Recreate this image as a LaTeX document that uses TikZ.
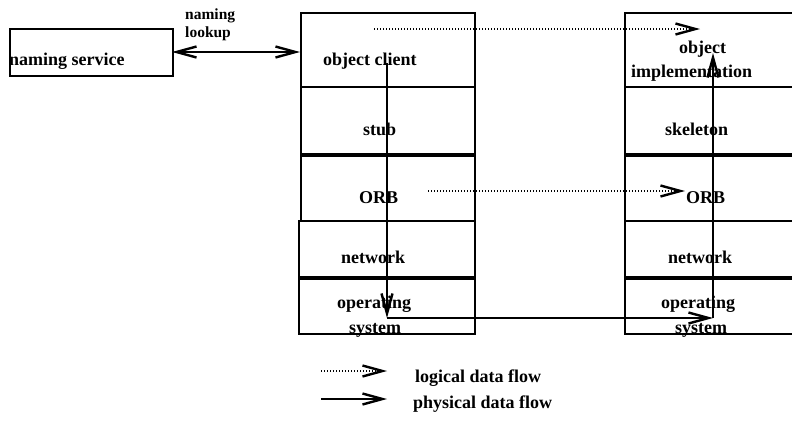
\documentclass[tikz,border=0pt]{standalone}
\usepackage{fontspec}
\setmainfont{Liberation Serif}
\usetikzlibrary{arrows.meta}
\begin{document}
\begin{tikzpicture}[x=1pt,y=-1pt,
  tip/.tip={Straight Barb[length=20pt,width=11pt,line width=2.4pt]},
  layer/.style={draw,line width=1.9pt},
  sep/.style={line width=3.4pt},
  txt/.style={anchor=base west,inner sep=0pt,font=\fontsize{18}{20}\selectfont\bfseries},
  smalltxt/.style={anchor=base west,inner sep=0pt,font=\fontsize{15.5}{17}\selectfont\bfseries},
  phys/.style={line width=1.9pt,-tip},
  logic/.style={line width=1.5pt,dash pattern=on 1pt off 2pt,-tip}]
\clip (0,0) rectangle (792,421);
\fill[white] (0,0) rectangle (792,421);
% naming service
\node[layer,anchor=north west,minimum width=163pt,minimum height=47pt,inner sep=0pt] (ns) at (9,28) {};
\node[txt] (nst) at (9,65) {naming service};
\node[smalltxt] (nl1) at (185,19) {naming};
\node[smalltxt] (nl2) at (185,37) {lookup};
% left stack
\foreach \n/\xa/\ya/\yb in {l1/301/13/87, l2/301/87/155, l3/301/155/221, l4/299/221/278, l5/299/278/334}{
  \draw[layer] (\xa,\ya) rectangle (475,\yb);
  \coordinate (\n) at (\xa,\ya);
}
% right stack
\foreach \n/\ya/\yb in {r1/13/87, r2/87/155, r3/155/221, r4/221/278, r5/278/334}{
  \draw[layer] (625,\ya) rectangle (820,\yb);
  \coordinate (\n) at (625,\ya);
}
\draw[sep] (301,155) -- (475,155);
\draw[sep] (299,278) -- (475,278);
\draw[sep] (625,155) -- (792,155);
\draw[sep] (625,278) -- (792,278);
% labels left
\node[txt] (oc) at (323,65) {object client};
\node[txt] (stub) at (363,135) {stub};
\node[txt] (orbl) at (359,203) {ORB};
\node[txt] (netl) at (341,263) {network};
\node[txt] (osl1) at (337,308) {operating};
\node[txt] (osl2) at (349,333) {system};
% labels right
\node[txt] (oi1) at (679,53) {object};
\node[txt] (oi2) at (631,77) {implementation};
\node[txt] (skel) at (665,135) {skeleton};
\node[txt] (orbr) at (686,203) {ORB};
\node[txt] (netr) at (668,263) {network};
\node[txt] (osr1) at (661,308) {operating};
\node[txt] (osr2) at (675,333) {system};
% naming lookup arrow
\coordinate (na) at (172,52);
\coordinate (nb) at (300,52);
\draw[line width=1.9pt,tip-tip] (na) -- (nb);
% physical flow
\coordinate (p0) at (387,63);
\coordinate (p1) at (387,318);
\coordinate (p2) at (713,318);
\coordinate (p3) at (713,53);
\draw[phys] (p0) -- (p1);
\draw[phys] (p1) -- (p2);
\draw[phys] (p2) -- (p3);
% logical flow
\coordinate (d0) at (374,29);
\coordinate (d1) at (700,29);
\coordinate (d2) at (428,191);
\coordinate (d3) at (685,191);
\draw[logic] (d0) -- (d1);
\draw[logic] (d2) -- (d3);
% legend
\coordinate (g0) at (321,371);
\coordinate (g1) at (387,371);
\coordinate (g2) at (321,399);
\coordinate (g3) at (387,399);
\draw[logic] (g0) -- (g1);
\draw[phys] (g2) -- (g3);
\node[txt] (lg1) at (415,382) {logical data flow};
\node[txt] (lg2) at (413,408) {physical data flow};
\end{tikzpicture}
\end{document}
